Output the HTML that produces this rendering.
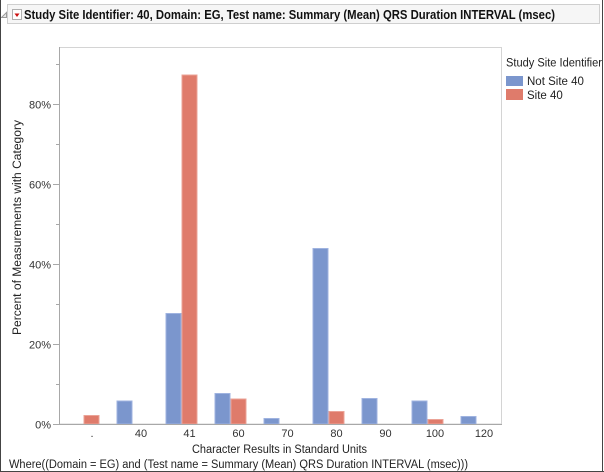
<!DOCTYPE html>
<html><head><meta charset="utf-8"><style>
html,body{margin:0;padding:0;background:#fff;}
svg{display:block;}
text{font-family:"Liberation Sans",sans-serif;}
</style></head><body>
<svg width="604" height="472" viewBox="0 0 604 472" xmlns="http://www.w3.org/2000/svg">
<rect x="0" y="0" width="604" height="472" fill="#fff"/>
<!-- title bar -->
<rect x="7.5" y="4.5" width="592" height="19" fill="#f6f6f6" stroke="#cfcfcf"/>
<path d="M1.5 17.5 L6.5 12.5 L6.5 17.5 Z" fill="#e8e8e8" stroke="#9a9a9a" stroke-width="1"/>
<rect x="12.5" y="9.5" width="9" height="10" fill="#fff" stroke="#b0b0b0"/>
<path d="M14.5 13.5 L19.5 13.5 L17 17 Z" fill="#cc1010"/>
<text x="24" y="19" font-size="12.5" font-weight="bold" fill="#111" textLength="531" lengthAdjust="spacingAndGlyphs">Study Site Identifier: 40, Domain: EG, Test name: Summary (Mean) QRS Duration INTERVAL (msec)</text>
<!-- plot frame -->
<rect x="59.5" y="47.5" width="442" height="376.5" fill="#fff" stroke="#d4d4d4"/>
<!-- y ticks -->
<g stroke="#a8a8a8" stroke-width="1">
<line x1="53" y1="424.5" x2="59" y2="424.5"/>
<line x1="53" y1="344.5" x2="59" y2="344.5"/>
<line x1="53" y1="264.5" x2="59" y2="264.5"/>
<line x1="53" y1="184.5" x2="59" y2="184.5"/>
<line x1="53" y1="104.5" x2="59" y2="104.5"/>
<line x1="56" y1="384.5" x2="59" y2="384.5"/>
<line x1="56" y1="304.5" x2="59" y2="304.5"/>
<line x1="56" y1="224.5" x2="59" y2="224.5"/>
<line x1="56" y1="144.5" x2="59" y2="144.5"/>
<line x1="56" y1="64.5" x2="59" y2="64.5"/>
</g>
<g font-size="11" fill="#333" text-anchor="end">
<text x="51" y="428.5">0%</text>
<text x="51" y="348.5">20%</text>
<text x="51" y="268.5">40%</text>
<text x="51" y="188.5">60%</text>
<text x="51" y="108.5">80%</text>
</g>
<!-- bars -->
<g fill="#7b96cd" stroke="#9fb3e0" stroke-width="1">
<rect x="117" y="401" width="15" height="23"/>
<rect x="166" y="313.5" width="15" height="110.5"/>
<rect x="215" y="393.5" width="15" height="30.5"/>
<rect x="264" y="418.5" width="15" height="5.5"/>
<rect x="313" y="248.5" width="15" height="175.5"/>
<rect x="362" y="398.5" width="15" height="25.5"/>
<rect x="412" y="401" width="15" height="23"/>
<rect x="461" y="416.5" width="15" height="7.5"/>
</g>
<g fill="#df7b6b" stroke="#eba397" stroke-width="1">
<rect x="84" y="415.5" width="15" height="8.5"/>
<rect x="182" y="75" width="15" height="349"/>
<rect x="231" y="399" width="15" height="25"/>
<rect x="329" y="411.5" width="15" height="12.5"/>
<rect x="428" y="419.5" width="15" height="4.5"/>
</g>
<!-- axes lines -->
<line x1="59.5" y1="47" x2="59.5" y2="425" stroke="#a8a8a8"/>
<line x1="59" y1="424.5" x2="502" y2="424.5" stroke="#a8a8a8"/>
<!-- x labels -->
<g font-size="11" fill="#333" text-anchor="middle">
<text x="92" y="437">.</text>
<text x="141" y="437">40</text>
<text x="189.5" y="437">41</text>
<text x="238.5" y="437">60</text>
<text x="287.5" y="437">70</text>
<text x="336.5" y="437">80</text>
<text x="385.5" y="437">90</text>
<text x="435" y="437">100</text>
<text x="484" y="437">120</text>
</g>
<text x="192" y="453" font-size="11.5" fill="#222" textLength="175" lengthAdjust="spacingAndGlyphs">Character Results in Standard Units</text>
<text transform="translate(21,335) rotate(-90)" x="0" y="0" font-size="11.5" fill="#222" textLength="215" lengthAdjust="spacingAndGlyphs">Percent of Measurements with Category</text>
<!-- legend -->
<text x="506" y="66.5" font-size="11.5" fill="#222" textLength="96" lengthAdjust="spacingAndGlyphs">Study Site Identifier</text>
<rect x="506" y="76" width="17" height="10" fill="#7b96cd"/>
<rect x="506" y="89" width="17" height="11" fill="#df7b6b"/>
<text x="527" y="85" font-size="11.5" fill="#222">Not Site 40</text>
<text x="527" y="99" font-size="11.5" fill="#222">Site 40</text>
<!-- where -->
<text x="9" y="468" font-size="11.5" fill="#222" textLength="459" lengthAdjust="spacingAndGlyphs">Where((Domain = EG) and (Test name = Summary (Mean) QRS Duration INTERVAL (msec)))</text>
<!-- outer border -->
<rect x="0" y="0" width="1" height="472" fill="#444"/>
<rect x="602" y="0" width="2" height="472" fill="#fff"/>
<rect x="602" y="0" width="1" height="472" fill="#444"/>
<rect x="0" y="471" width="604" height="1" fill="#444"/>
</svg>
</body></html>
